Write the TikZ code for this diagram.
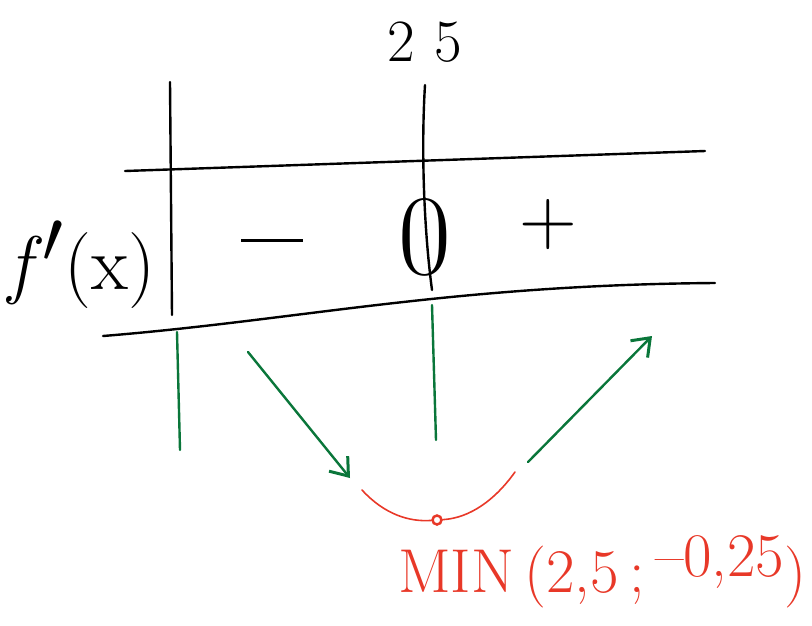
\documentclass[tikz,border=0pt]{standalone}
\usetikzlibrary{arrows.meta}
\definecolor{pgreen}{RGB}{10,118,58}
\definecolor{pred}{RGB}{232,56,40}
\begin{document}
\begin{tikzpicture}[x=1pt,y=-1pt,
  ink/.style={line width=2.4pt,line cap=round,black},
  gline/.style={line width=2.4pt,line cap=round,pgreen},
  garrow/.style={gline,-{Straight Barb[length=16pt,width=24pt,line width=3pt]}},
  rline/.style={line width=1.6pt,line cap=round,pred},
  lbl/.style={inner sep=0pt,font=\fontsize{60}{64}\selectfont},
  rlbl/.style={inner sep=0pt,text=pred,font=\fontsize{62}{66}\selectfont}]
\useasboundingbox (0,0) rectangle (812,625);
% grid lines
\coordinate (v1t) at (170,82);
\coordinate (v1b) at (172,315);
\coordinate (v2t) at (425,85);
\coordinate (v2b) at (432,290);
\coordinate (h1l) at (125,171);
\coordinate (h1r) at (705,151);
\coordinate (h2l) at (103,336);
\coordinate (h2r) at (715,283);
\draw[ink] (v1t) -- (v1b);
\draw[ink] (v2t) .. controls (421,150) and (424,230) .. (v2b);
\draw[ink] (h1l) -- (h1r);
\draw[ink] (h2l) .. controls (300,320) and (450,285) .. (h2r);
% labels
\node[lbl] (x0) at (425,42) {2\,\,5};
\node[lbl,font=\fontsize{76}{80}\selectfont] (fx) at (82,265) {\itshape f\/\upshape\scalebox{3}{$'$}(x)};
\node[lbl] (minus) at (272,240) {\rule{62pt}{3pt}};
\node[lbl,font=\fontsize{115}{120}\selectfont] (zero) at (425,237) {0};
\node[lbl,font=\fontsize{80}{84}\selectfont] (plus) at (548,225) {+};
% green lines
\coordinate (g1t) at (177,332);
\coordinate (g1b) at (180,450);
\coordinate (g2t) at (432,305);
\coordinate (g2b) at (436,440);
\draw[gline] (g1t) -- (g1b);
\draw[gline] (g2t) -- (g2b);
\coordinate (a1s) at (248,352);
\coordinate (a1e) at (350,478);
\coordinate (a2s) at (528,462);
\coordinate (a2e) at (652,336);
\draw[garrow] (a1s) -- (a1e);
\draw[garrow] (a2s) -- (a2e);
% red curve
\coordinate (c1) at (362,490);
\coordinate (c2) at (515,472);
\node[draw=pred,line width=2.5pt,circle,inner sep=0pt,minimum size=9pt] (dot) at (437,520) {};
\draw[rline] (c1) .. controls (385,515) and (410,522) .. (dot);
\draw[rline] (dot) .. controls (470,518) and (495,500) .. (c2);
\node[rlbl,anchor=west] (minlbl) at (398,572) {MIN\,(2,5\,;\,\raisebox{16pt}{--0,25})};
\end{tikzpicture}
\end{document}
